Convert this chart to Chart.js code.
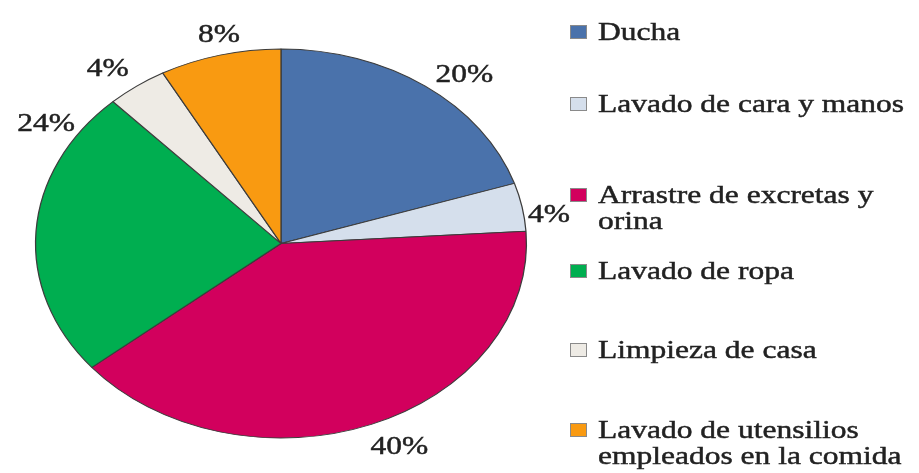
<!DOCTYPE html>
<html>
<head>
<meta charset="utf-8">
<script src="https://cdn.jsdelivr.net/npm/chart.js@4/dist/chart.umd.min.js"></script>
<style>
html,body{margin:0;padding:0;background:#ffffff;}
#wrap{width:919px;height:473px;}
</style>
</head>
<body>
<div id="wrap"><canvas id="c" width="919" height="473"></canvas></div>
<script>
// ---- data ----
const categories = ['Ducha', 'Lavado de cara y manos', 'Arrastre de excretas y orina', 'Lavado de ropa', 'Limpieza de casa', 'Lavado de utensilios empleados en la comida'];
const legendLines = [['Ducha'], ['Lavado de cara y manos'], ['Arrastre de excretas y', 'orina'], ['Lavado de ropa'], ['Limpieza de casa'], ['Lavado de utensilios', 'empleados en la comida']];
const values = [20, 4, 40, 24, 4, 8];
const valueLabels = ['20%', '4%', '40%', '24%', '4%', '8%'];

// ---- style ----
const sliceColors = ['#4A72AB', '#D5DFEC', '#D2005D', '#00AE50', '#EEEBE5', '#F99A11'];
const STRETCH_X = 1.262;   // pie is drawn as an ellipse
const TEXT_X = 1.26;       // text is horizontally stretched
const FONT = '25px "Liberation Serif", "Times New Roman", serif';
const TEXT_COLOR = '#222222';

function drawStretchedText(ctx, text, x, y) {
  ctx.save();
  ctx.translate(x, y);
  ctx.scale(TEXT_X, 1);
  ctx.fillText(text, 0, 0);
  ctx.lineWidth = 0.45;
  ctx.strokeStyle = TEXT_COLOR;
  ctx.strokeText(text, 0, 0);
  ctx.restore();
}

const ellipsePlugin = {
  id: 'ellipse',
  beforeDatasetsDraw(chart) {
    const arc = chart.getDatasetMeta(0).data[0];
    const ctx = chart.ctx;
    ctx.save();
    ctx.translate(arc.x, 0);
    ctx.scale(STRETCH_X, 1);
    ctx.translate(-arc.x, 0);
  },
  afterDatasetsDraw(chart, args, opts) {
    const ctx = chart.ctx;
    ctx.restore();
    // percentage labels
    const meta = chart.getDatasetMeta(0);
    ctx.save();
    ctx.font = FONT;
    ctx.fillStyle = TEXT_COLOR;
    ctx.textAlign = 'center';
    ctx.textBaseline = 'middle';
    meta.data.forEach((el, i) => {
      const p = el.getProps(['x', 'y', 'startAngle', 'endAngle', 'outerRadius'], true);
      const mid = (p.startAngle + p.endAngle) / 2;
      const ex = p.x + STRETCH_X * p.outerRadius * Math.cos(mid);
      const ey = p.y + p.outerRadius * Math.sin(mid);
      const off = opts.offsets[i];
      drawStretchedText(ctx, valueLabels[i], ex + off[0], ey + off[1]);
    });
    ctx.restore();
  }
};

const legendPlugin = {
  id: 'sideLegend',
  afterDraw(chart, args, opts) {
    const ctx = chart.ctx;
    const ds = chart.data.datasets[0];
    ctx.save();
    ctx.font = FONT;
    ctx.textAlign = 'left';
    ctx.textBaseline = 'alphabetic';
    chart.data.labels.forEach((lab, i) => {
      const base = opts.baselines[i];
      ctx.fillStyle = ds.backgroundColor[i];
      ctx.strokeStyle = '#8a8a8a';
      ctx.lineWidth = 1;
      ctx.fillRect(opts.boxX, base - 15, opts.boxW, opts.boxH);
      ctx.strokeRect(opts.boxX + 0.5, base - 14.5, opts.boxW - 1, opts.boxH - 1);
      ctx.fillStyle = TEXT_COLOR;
      legendLines[i].forEach((line, j) => {
        drawStretchedText(ctx, line, opts.textX, base + j * opts.lineH);
      });
    });
    ctx.restore();
  }
};

new Chart(document.getElementById('c'), {
  type: 'pie',
  data: {
    labels: categories,
    datasets: [{
      data: values,
      backgroundColor: sliceColors,
      borderColor: '#3c3c3c',
      borderWidth: 1
    }]
  },
  options: {
    responsive: false,
    devicePixelRatio: 1,
    animation: false,
    layout: { padding: { top: 48, bottom: 34, left: 86, right: 443 } },
    plugins: {
      legend: { display: false },
      tooltip: { enabled: false },
      ellipse: { offsets: [[39, -11], [27, 8], [28, 23], [10, -107], [-29, -17], [-1, -20]] },
      sideLegend: { boxX: 570, boxW: 17, boxH: 14, textX: 598, lineH: 26, baselines: [40, 112, 203, 279, 358, 438] }
    }
  },
  plugins: [ellipsePlugin, legendPlugin]
});
</script>
</body>
</html>
